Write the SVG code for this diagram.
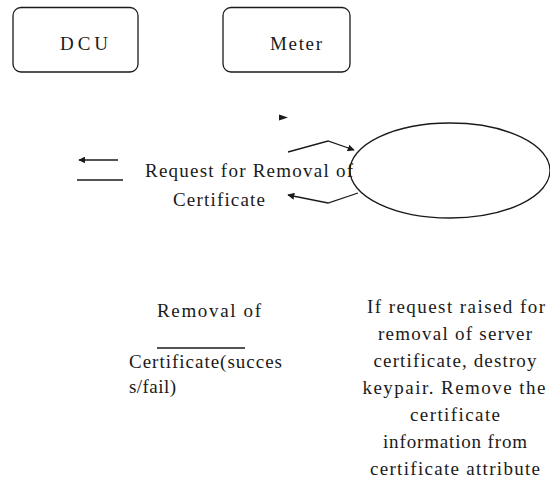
<svg xmlns="http://www.w3.org/2000/svg" width="550" height="482" viewBox="0 0 550 482">
  <style>
    .box { fill: #fff; stroke: #1a1a1a; stroke-width: 1.3; }
    text { font-family: 'Liberation Serif', 'Times New Roman', Times, serif; font-size: 19px; fill: #1a1a1a; }
    .mid { text-anchor: middle; }
    .wire { fill: none; stroke: #1a1a1a; stroke-width: 1.3; }
  </style>
  <defs>
    <marker id="head" viewBox="0 0 10 10" refX="9" refY="5" markerWidth="7" markerHeight="7" markerUnits="userSpaceOnUse" orient="auto">
      <path d="M0,0 L10,5 L0,10 z" fill="#1a1a1a"/>
    </marker>
  </defs>
  <rect width="550" height="482" fill="#fff"/>

  <g id="dcu" font-family="Liberation Serif, serif">
    <rect class="box" x="13" y="7.5" width="125" height="64.5" rx="8"/>
    <text x="60" y="50" textLength="48" lengthAdjust="spacing">DCU</text>
  </g>

  <g id="meter" font-family="Liberation Serif, serif">
    <rect class="box" x="223" y="7.5" width="127" height="64.5" rx="8"/>
    <text x="270" y="50" textLength="52" lengthAdjust="spacing">Meter</text>
  </g>

  <g id="process">
    <ellipse class="box" cx="450" cy="170.5" rx="100" ry="47.5"/>
  </g>

  <g id="request-label" font-family="Liberation Serif, serif">
    <text x="145" y="177" textLength="208" lengthAdjust="spacing">Request for Removal of</text>
    <text x="173" y="206" textLength="92" lengthAdjust="spacing">Certificate</text>
  </g>

  <g id="response-label" font-family="Liberation Serif, serif">
    <text x="157" y="317" textLength="104" lengthAdjust="spacing">Removal of</text>
    <line class="wire" x1="157" y1="348" x2="245" y2="348"/>
    <text x="129" y="368" textLength="153" lengthAdjust="spacing">Certificate(succes</text>
    <text x="129" y="393" textLength="47" lengthAdjust="spacing">s/fail)</text>
  </g>

  <g id="action-note" font-family="Liberation Serif, serif">
    <text class="mid" x="456" y="313" textLength="178" lengthAdjust="spacing">If request raised for</text>
    <text class="mid" x="455" y="340" textLength="154" lengthAdjust="spacing">removal of server</text>
    <text class="mid" x="455" y="367" textLength="163" lengthAdjust="spacing">certificate, destroy</text>
    <text class="mid" x="454" y="394" textLength="183" lengthAdjust="spacing">keypair. Remove the</text>
    <text class="mid" x="455" y="421" textLength="90" lengthAdjust="spacing">certificate</text>
    <text class="mid" x="455" y="448" textLength="144" lengthAdjust="spacing">information from</text>
    <text class="mid" x="455" y="475" textLength="170" lengthAdjust="spacing">certificate attribute</text>
  </g>

  <g id="connectors">
    <!-- loop into and out of the process ellipse -->
    <polyline class="wire" points="288,152 328,141 354,150" marker-end="url(#head)"/>
    <polyline class="wire" points="358,193 328,203 288,195" marker-end="url(#head)"/>
    <!-- stray arrow tip -->
    <polygon points="279,114.5 288,117.5 279,120.5" fill="#1a1a1a"/>
    <!-- legend strokes on the left -->
    <line class="wire" x1="118" y1="160" x2="79" y2="160" marker-end="url(#head)"/>
    <line class="wire" x1="77" y1="180" x2="123" y2="180"/>
  </g>
</svg>
